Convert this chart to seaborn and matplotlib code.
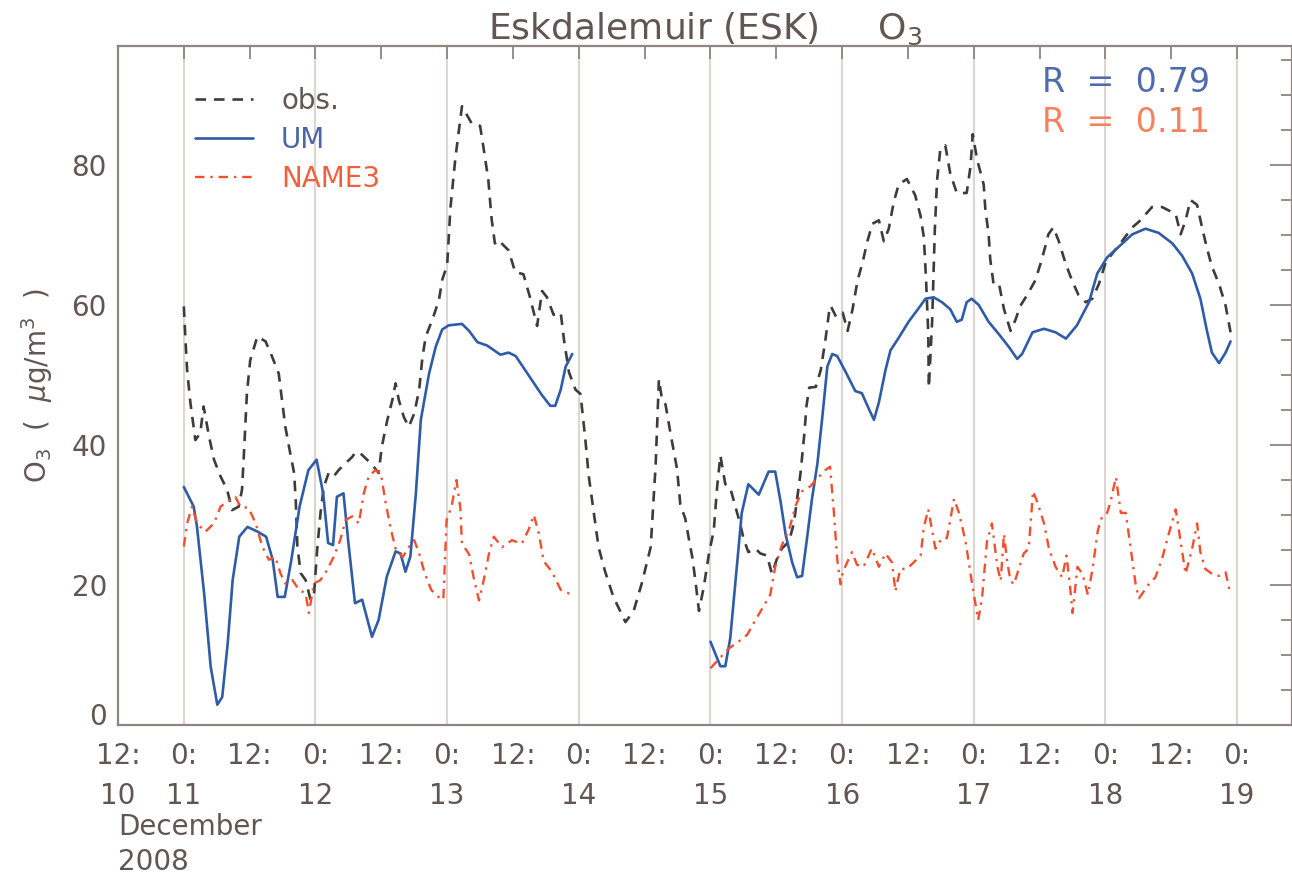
import numpy as np
import pandas as pd
import matplotlib
matplotlib.use("Agg")
import matplotlib.pyplot as plt
import seaborn as sns
from matplotlib.ticker import MultipleLocator
from matplotlib.lines import Line2D

# hours since 11 Dec 2008 00:00, values in ug/m3
obs_hours = [0.0, 0.3, 0.6, 1.2, 2.1, 3.0, 3.6, 4.6, 5.5, 6.7, 7.9, 8.8, 10.0, 10.6, 10.9,
             11.2, 11.5, 12.1, 13.4, 14.9, 16.1, 17.3, 17.9, 18.5, 19.4, 20.1, 20.4, 20.7,
             21.3, 22.2, 23.1, 23.7, 24.3, 24.9, 25.5, 26.4, 27.3, 28.2, 29.5, 30.7, 31.3,
             32.2, 33.4, 34.6, 35.5, 36.1, 37.1, 38.0, 38.6, 39.2, 40.1, 41.0, 42.0, 42.9,
             43.5, 44.1, 45.3, 46.5, 47.1, 48.0, 48.6, 49.5, 50.4, 50.7, 52.5, 54.0, 54.6,
             55.5, 56.1, 56.7, 57.3, 59.2, 60.4, 61.9, 63.1, 64.4, 65.3, 66.2, 67.4, 68.7,
             69.3, 70.2, 71.4, 72.3, 73.2, 73.8, 74.7, 75.6, 76.8, 78.3, 80.5, 82.0, 83.5,
             85.1, 86.0, 86.6, 87.2, 87.8, 88.7, 89.9, 90.5, 91.4, 92.1, 92.7, 93.3, 93.9,
             94.8, 95.7, 96.6, 97.2, 97.8, 98.7, 99.6, 100.5, 101.4, 102.0, 102.9, 104.2,
             105.1, 106.3, 107.2, 108.1, 109.0, 110.3, 111.2, 111.8, 112.4, 113.1, 113.5,
             114.0, 115.2, 116.1, 117.0, 117.6, 117.9, 118.9, 120.1, 121.0, 121.9, 122.8,
             123.7, 124.6, 125.5, 126.7, 127.6, 128.5, 129.4, 130.3, 131.8, 133.3, 134.3,
             134.9, 135.3, 135.7, 135.8, 136.4, 136.9, 137.3, 137.9, 138.8, 139.7, 140.9,
             142.7, 143.4, 143.8, 144.6, 145.8, 146.1, 146.7, 147.0, 147.6, 148.6, 149.5,
             150.7, 151.6, 152.5, 153.7, 155.2, 156.4, 157.6, 158.5, 159.5, 160.7, 161.9,
             163.1, 164.4, 165.6, 166.8, 168.0, 169.2, 171.0, 172.9, 174.1, 176.5, 178.3,
             180.8, 181.7, 182.6, 183.5, 184.7, 185.6, 186.5, 187.4, 188.7, 189.9, 190.8]
obs_vals = [59.8, 55.0, 50.7, 46.0, 40.7, 41.7, 45.5, 41.2, 37.9, 35.5, 33.6, 30.7, 31.2, 33.6,
            37.9, 42.6, 47.4, 52.1, 55.5, 54.8, 52.6, 50.2, 46.4, 42.6, 38.8, 36.0, 32.1, 25.5,
            21.7, 20.7, 17.9, 18.3, 25.0, 30.2, 34.0, 36.0, 35.5, 36.4, 37.4, 38.3, 39.0,
            38.8, 37.9, 36.9, 36.0, 39.8, 43.6, 46.4, 48.8, 46.4, 44.0, 42.6, 44.5, 47.9,
            52.6, 55.5, 57.9, 60.7, 63.6, 65.7, 73.9, 81.0, 86.6, 88.4, 85.9, 85.6, 82.6,
            77.9, 72.3, 68.8, 69.3, 67.8, 64.7, 64.4, 61.1, 57.0, 62.0, 61.1, 58.6, 58.9,
            55.0, 50.4, 47.9, 47.3, 40.7, 35.6, 30.5, 25.4, 21.9, 18.3, 14.7, 16.3, 20.3,
            25.4, 37.1, 49.4, 46.3, 45.8, 41.7, 36.6, 31.5, 29.5, 26.4, 23.9, 20.3, 16.3,
            19.8, 24.4, 27.8, 33.9, 38.5, 34.4, 33.9, 31.3, 28.8, 26.7, 24.7, 25.2,
            24.5, 24.2, 21.6, 23.7, 25.2, 26.2, 28.8, 32.3, 35.9, 41.5, 45.6,
            48.2, 48.3, 50.7, 55.3, 58.9, 59.9, 58.3, 58.9, 56.3, 59.4, 63.5,
            66.0, 69.1, 71.6, 72.1, 69.1, 70.9, 74.7, 77.2, 78.0, 75.7, 72.7,
            69.6, 63.5, 55.9, 48.2, 57.6, 70.9, 77.8, 82.3, 82.8, 78.8, 76.0,
            76.0, 79.8, 84.4, 80.8, 77.2, 73.7, 70.1, 66.5, 63.0, 63.0, 59.4,
            56.3, 57.9, 59.9, 61.4, 63.5, 66.5, 70.1, 71.1, 69.1, 66.0, 63.5,
            61.4, 60.4, 60.9, 63.0, 66.0, 67.3, 69.1, 71.1, 71.9, 74.0, 74.0,
            73.0, 70.1, 72.1, 75.0, 74.3, 71.1, 68.1, 65.5, 63.0, 59.9, 56.1]

# model runs have no output between 14 Dec 00:00 and 15 Dec 00:00 -> two segments
um_hours_a = [0.0, 1.8, 2.4, 3.7, 4.9, 6.1, 7.0, 8.0, 8.9, 10.1, 11.6, 13.5, 15.0, 16.2, 17.1,
              18.4, 19.6, 21.1, 22.7, 24.2, 25.4, 26.3, 27.2, 27.9, 29.1, 30.0, 31.2, 32.5,
              34.3, 35.5, 37.0, 38.6, 39.5, 40.4, 41.3, 42.3, 43.2, 44.7, 45.9, 47.1, 48.3,
              50.7, 52.0, 53.5, 55.3, 57.7, 59.2, 60.5, 62.9, 65.3, 66.8, 67.7, 68.7, 69.6,
              70.8]
um_vals_a = [34.0, 31.2, 28.3, 18.8, 8.3, 2.9, 4.0, 11.7, 20.7, 26.9, 28.3, 27.6, 26.9, 23.6,
             18.3, 18.3, 23.6, 31.2, 36.4, 37.9, 33.1, 26.0, 25.7, 32.6, 33.1, 26.0, 17.4,
             17.9, 12.6, 15.0, 21.2, 24.8, 24.5, 21.9, 24.1, 33.1, 43.6, 50.2, 54.0, 56.5,
             57.1, 57.3, 56.3, 54.7, 54.2, 52.9, 53.2, 52.7, 49.9, 47.1, 45.6, 45.6, 47.9,
             51.2, 53.0]
um_hours_b = [96.0, 97.8, 98.7, 99.6, 100.8, 101.7, 102.9, 104.8, 106.6, 107.8, 108.8, 109.7,
              110.9, 111.8, 112.7, 113.6, 114.5, 115.5, 116.4, 117.3, 118.2, 119.1, 120.6,
              122.4, 123.6, 124.9, 125.8, 126.7, 127.9, 128.8, 130.3, 132.1, 134.0, 135.2,
              136.7, 138.2, 139.7, 140.9, 141.8, 142.7, 143.6, 144.9, 146.7, 148.6, 150.4,
              151.9, 152.8, 154.7, 156.8, 158.9, 160.8, 162.8, 165.0, 166.5, 168.3, 170.4,
              172.9, 175.3, 177.7, 180.2, 182.0, 183.8, 185.3, 186.5, 187.4, 188.7, 189.9,
              190.8]
um_vals_b = [11.9, 8.4, 8.4, 12.4, 22.6, 30.3, 34.4, 32.9, 36.2, 36.2, 31.8, 27.2, 23.2, 21.1,
             21.3, 26.7, 32.3, 37.4, 44.1, 51.2, 53.0, 52.7, 50.5, 47.7, 47.4, 45.1, 43.6,
             46.1, 50.7, 53.5, 55.3, 57.6, 59.6, 60.9, 61.1, 60.4, 59.4, 57.6, 57.9, 60.4,
             60.9, 60.0, 57.6, 55.8, 54.0, 52.3, 53.0, 56.1, 56.6, 56.1, 55.2, 57.1, 60.4,
             64.5, 66.8, 68.3, 70.1, 70.9, 70.3, 68.8, 67.0, 64.5, 60.9, 56.3, 53.2, 51.7,
             53.2, 54.8]

name3_hours_a = [0.0, 0.6, 1.5, 2.4, 3.9, 5.5, 6.7, 8.2, 9.4, 10.3, 11.8, 13.1, 14.3, 15.5,
                 16.7, 17.6, 18.5, 19.8, 21.0, 22.2, 22.8, 23.7, 24.9, 26.1, 27.3, 28.5, 29.5,
                 30.7, 31.9, 32.8, 33.7, 34.9, 35.9, 36.8, 37.7, 38.6, 39.9, 41.1, 42.0, 42.9,
                 43.9, 45.1, 46.4, 47.3, 47.6, 47.9, 48.8, 49.7, 50.4, 50.7, 52.0, 52.9, 53.8,
                 54.7, 55.6, 56.5, 58.0, 59.8, 61.6, 62.9, 63.8, 64.7, 65.6, 67.1, 68.7, 70.2,
                 70.8]
name3_vals_a = [25.5, 28.8, 31.2, 28.8, 27.6, 28.8, 31.2, 32.1, 32.6, 31.2, 31.0, 28.8, 25.5,
                23.6, 24.0, 21.7, 20.2, 20.7, 19.3, 18.8, 16.0, 20.2, 20.7, 22.1, 24.0, 26.4,
                29.3, 29.8, 28.8, 33.1, 35.5, 36.4, 36.0, 31.7, 28.1, 25.2, 24.0, 25.5, 26.4,
                24.5, 21.7, 19.3, 18.3, 17.9, 23.6, 29.3, 31.2, 35.0, 31.0, 25.9, 24.4, 20.8,
                17.8, 20.8, 24.4, 26.9, 25.4, 26.4, 25.9, 28.0, 30.0, 27.4, 23.4, 21.9, 19.3,
                18.8, 18.8]
name3_hours_b = [96.0, 97.5, 99.3, 101.1, 102.7, 104.2, 105.7, 106.9, 107.8, 109.0, 110.3,
                 111.5, 112.7, 114.2, 115.7, 116.9, 117.8, 118.5, 119.1, 119.7, 120.1, 120.9,
                 121.8, 122.7, 123.9, 125.4, 126.7, 127.9, 129.1, 129.7, 130.6, 131.8, 133.0,
                 134.3, 134.9, 135.7, 136.4, 137.0, 138.2, 139.1, 140.4, 141.3, 142.5, 143.7,
                 144.8, 145.5, 146.4, 147.3, 148.3, 148.9, 149.5, 150.1, 150.7, 151.3, 152.2,
                 153.1, 154.0, 154.8, 155.6, 156.8, 157.7, 158.9, 160.1, 160.9, 161.5, 162.0,
                 162.9, 163.8, 164.8, 165.7, 166.6, 167.4, 168.3, 168.9, 169.9, 170.8, 171.7,
                 172.6, 173.5, 174.1, 175.0, 175.9, 177.1, 178.3, 179.5, 180.8, 181.7, 182.6,
                 183.8, 184.7, 185.3, 186.2, 187.4, 188.7, 189.9, 190.8]
name3_vals_b = [8.1, 9.4, 10.9, 11.9, 12.9, 15.0, 17.0, 18.6, 22.6, 25.7, 27.8, 31.3, 33.4,
                34.1, 35.4, 36.4, 36.9, 30.3, 23.7, 20.1, 21.8, 23.2, 24.7, 22.9, 22.6, 25.2,
                22.6, 24.5, 23.2, 19.1, 22.3, 22.3, 23.2, 24.2, 28.3, 30.8, 27.8, 25.2, 26.7,
                26.7, 32.3, 30.3, 26.2, 20.1, 15.0, 18.1, 26.2, 28.8, 22.6, 20.6, 27.3, 23.2,
                20.6, 20.1, 22.3, 24.5, 25.2, 33.4, 31.8, 28.8, 25.2, 22.6, 21.1, 24.2, 20.1,
                16.0, 22.6, 21.6, 18.6, 22.6, 27.8, 29.8, 30.3, 31.8, 35.4, 30.3, 30.3, 25.2,
                20.1, 18.1, 19.1, 20.1, 21.1, 23.7, 27.2, 30.8, 26.2, 21.6, 25.2, 28.8, 24.7,
                22.3, 21.6, 21.3, 21.8, 18.6]

r_um = 0.79
r_name3 = 0.11

midnight_labels = ["0:\n11", "0:\n12", "0:\n13", "0:\n14", "0:\n15", "0:\n16", "0:\n17",
                   "0:\n18", "0:\n19"]
noon_labels = ["12:\n10"] + ["12:"] * 8

# colours
TXT = "#625653"
AX = "#8f8480"
C_OBS = "#3f3b3a"
C_UM = "#2f5ca6"
C_NAME = "#f24f2c"

sns.set_style("white")
plt.rcParams["font.family"] = ["DejaVu Sans"]
plt.rcParams["mathtext.fontset"] = "dejavusans"
plt.rcParams["text.color"] = TXT

obs_df = pd.DataFrame({"hour": obs_hours, "o3": obs_vals})
um_df = pd.DataFrame({
    "hour": um_hours_a + um_hours_b,
    "o3": um_vals_a + um_vals_b,
    "seg": [0] * len(um_hours_a) + [1] * len(um_hours_b),
})
name_df = pd.DataFrame({
    "hour": name3_hours_a + name3_hours_b,
    "o3": name3_vals_a + name3_vals_b,
    "seg": [0] * len(name3_hours_a) + [1] * len(name3_hours_b),
})

fig = plt.figure(figsize=(12.92, 8.77), dpi=100)
ax = fig.add_axes([118 / 1292, 1 - 725 / 877, 1 - 118 / 1292, (725 - 46) / 877])

sns.lineplot(data=obs_df, x="hour", y="o3", ax=ax, color=C_OBS, lw=1.9,
             linestyle=(0, (4, 3)), estimator=None, sort=False)
sns.lineplot(data=um_df, x="hour", y="o3", units="seg", ax=ax, color=C_UM, lw=1.9,
             estimator=None, sort=False)
sns.lineplot(data=name_df, x="hour", y="o3", units="seg", ax=ax, color=C_NAME, lw=1.7,
             linestyle=(0, (4, 2.5, 1, 2.5)), estimator=None, sort=False)

ax.set_xlim(-12, 202)
ax.set_ylim(0, 97)

ax.set_xticks(np.arange(0, 193, 24))
ax.set_xticklabels(midnight_labels, linespacing=1.55)
ax.set_xticks(np.arange(-12, 190, 24), minor=True)
ax.set_xticklabels(noon_labels, minor=True, linespacing=1.55)
ax.yaxis.set_minor_locator(MultipleLocator(5))
ax.set_yticks([0, 20, 40, 60, 80])

ax.tick_params(axis="x", which="both", direction="in", top=True, length=9, width=1.3,
               color=AX, labelcolor=TXT, labelsize=20, pad=12)
ax.tick_params(axis="y", which="major", direction="in", right=True, length=16, width=1.3,
               color=AX, labelcolor=TXT, labelsize=20, pad=8)
ax.tick_params(axis="y", which="minor", direction="in", right=True, length=8, width=1.3,
               color=AX)
# the zero label sits on the axis line, as in the original
ax.get_yticklabels()[0].set_va("baseline")

for sp in ax.spines.values():
    sp.set_color(AX)
    sp.set_linewidth(1.6)

ax.grid(axis="x", which="major", color="#dcd5d2", lw=1.5)
ax.set_axisbelow(True)

ax.set_xlabel("")
ax.set_ylabel(r"O$_3$  (  $\mu$g/m$^3$  )", fontsize=20, color=TXT, labelpad=12)
ax.set_title(r"Eskdalemuir (ESK)     O$_3$", fontsize=26, color=TXT, pad=5)

fig.text(118 / 1292, 1 - 813 / 877, "December\n2008", fontsize=20, color=TXT,
         ha="left", va="top", linespacing=1.3)

ax.text(0.93, 0.946, f"R  =  {r_um:.2f}", transform=ax.transAxes, fontsize=24,
        color="#4f6aae", ha="right", va="center")
ax.text(0.93, 0.888, f"R  =  {r_name3:.2f}", transform=ax.transAxes, fontsize=24,
        color="#f4825f", ha="right", va="center")

handles = [
    Line2D([], [], color=C_OBS, lw=1.9, linestyle=(0, (4, 3))),
    Line2D([], [], color=C_UM, lw=1.9),
    Line2D([], [], color=C_NAME, lw=1.7, linestyle=(0, (4, 2.5, 1, 2.5))),
]
leg = ax.legend(handles, ["obs.", "UM", "NAME3"], loc="upper left",
                bbox_to_anchor=(195 / 1292, 1 - 87 / 877), bbox_transform=fig.transFigure,
                frameon=False, fontsize=20, handlelength=2.1, handletextpad=1.0,
                labelspacing=0.4, borderaxespad=0, borderpad=0)
for t, c in zip(leg.get_texts(), [TXT, "#4a66a8", "#f0603c"]):
    t.set_color(c)

fig.savefig("out.png", dpi=100)
